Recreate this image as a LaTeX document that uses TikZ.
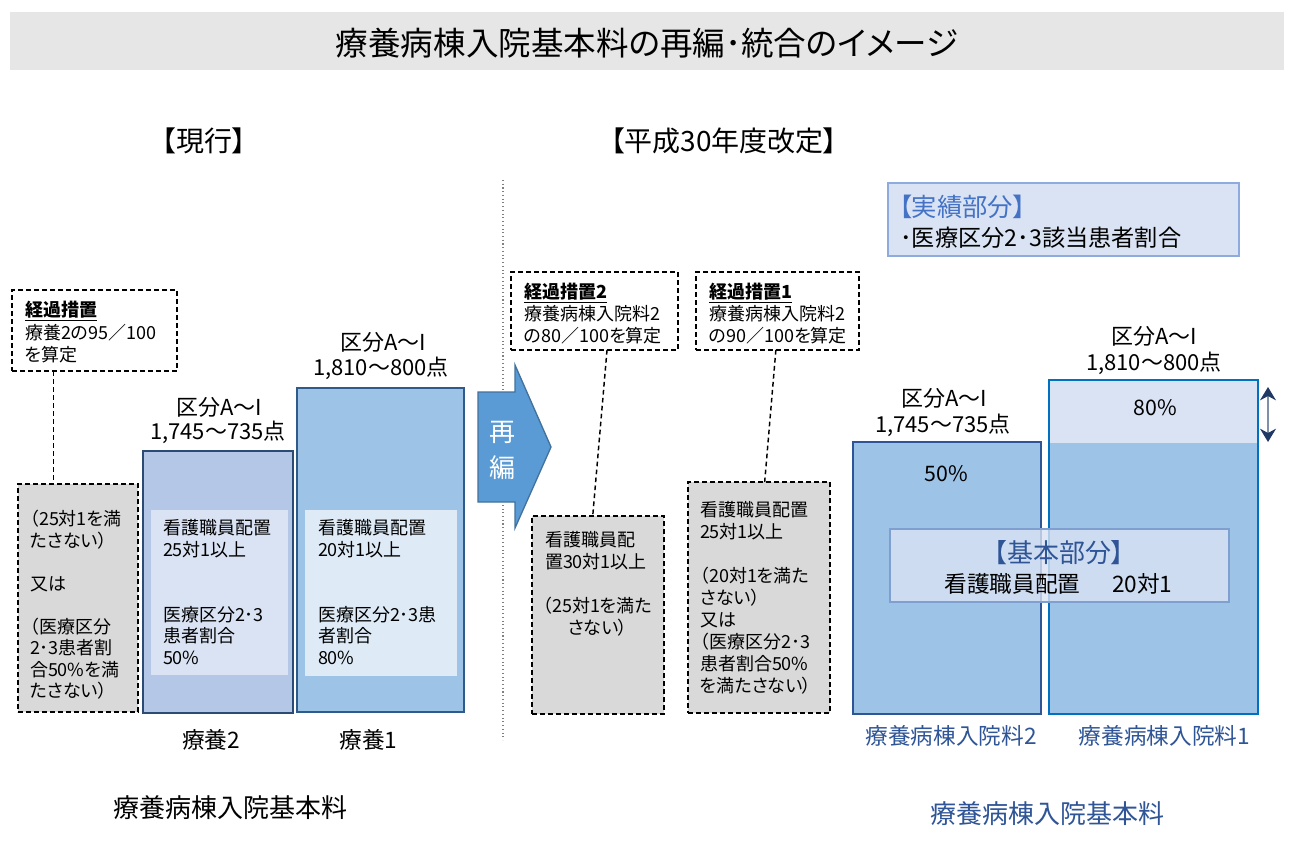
\documentclass[tikz,border=0pt]{standalone}
\usepackage{fontspec}
\setmainfont[RawFeature=+palt]{Noto Sans CJK JP}
\usetikzlibrary{arrows.meta,calc}
\definecolor{bandgray}{HTML}{E6E6E6}
\definecolor{boxgray}{HTML}{D9D9D9}
\definecolor{peri}{HTML}{B4C7E7}
\definecolor{skyb}{HTML}{9DC3E6}
\definecolor{palebl}{HTML}{DAE3F3}
\definecolor{palebl2}{HTML}{DEEBF7}
\definecolor{navyb}{HTML}{2B4A74}
\definecolor{steelb}{HTML}{2F5B8A}
\definecolor{arrowfill}{HTML}{5B9BD5}
\definecolor{arrowline}{HTML}{41719C}
\definecolor{lblblue}{HTML}{2F5597}
\definecolor{hdrblue}{HTML}{4472C4}
\definecolor{frameb}{HTML}{8FAADC}
\definecolor{kframe}{HTML}{7F9FD0}
\definecolor{brightb}{HTML}{0070C0}
\definecolor{darknavy}{HTML}{1F3864}
\definecolor{shaftgray}{HTML}{8090A8}
\begin{document}
\begin{tikzpicture}[x=0.75pt,y=-0.75pt,
  sz/.style 2 args={minimum width=#1*0.75pt,minimum height=#2*0.75pt,inner sep=0pt,outer sep=0pt,rectangle},
  dashbox/.style={draw=black,line width=1.1pt,dash pattern=on 3.5pt off 2.5pt},
  conn/.style={draw=black,line width=1.1pt,dash pattern=on 3.5pt off 2.5pt},
  txt/.style={inner sep=0pt,outer sep=0pt,align=left,anchor=north west,font=\fontsize{13.5pt}{16.2pt}\selectfont},
  lbl/.style={inner sep=0pt,outer sep=0pt,font=\fontsize{16.5pt}{20pt}\selectfont},
  mid/.style={inner sep=0pt,outer sep=0pt,font=\fontsize{17pt}{20pt}\selectfont},
  big/.style={inner sep=0pt,outer sep=0pt,font=\fontsize{19.5pt}{23pt}\selectfont},
  head/.style={inner sep=0pt,outer sep=0pt,font=\fontsize{21pt}{24pt}\selectfont},
]
\useasboundingbox[fill=white] (0,0) rectangle (1289,851);

% title
\node[sz={1274}{58},fill=bandgray] (band) at (647,41) {};
\node[inner sep=0pt,font=\fontsize{24.4pt}{28pt}\selectfont] (title) at (647,43) {療養病棟入院基本料の再編･統合のイメージ};
\node[head] (cur) at (204,141) {【現行】};
\node[head] (rev) at (724,141) {【平成30年度改定】};

% separator
\coordinate (sepT) at (503,180);
\coordinate (sepB) at (503,740);
\draw[gray,dotted,line width=0.8pt] (sepT) -- (sepB);

% ---------- left ----------
\node[sz={165}{81},dashbox,fill=white] (k0) at (94.5,330.5) {};
\node[txt,font=\fontsize{13.5pt}{16.9pt}\selectfont] (k0t) at (25,301.5) {\underline{\textbf{経過措置}}\\療養2の95／100\\を算定};

\node[sz={120}{228},dashbox,fill=boxgray] (g0) at (78,598) {};
\node[txt,font=\fontsize{13.5pt}{16.1pt}\selectfont] (g0t) at (30,510.5) {（25対1を満\\たさない）\\[16.1pt]又は\\[16.1pt]（医療区分\\2･3患者割\\合50\%を満\\たさない）};

\coordinate (c0) at ($(k0.south west)!0.25!(k0.south east)$);
\draw[conn] (c0) -- (c0 |- g0.north);

\node[sz={150}{262},fill=peri,draw=navyb,line width=2.2pt] (r2) at (218,582) {};
\node[sz={137}{165},fill=palebl] (r2in) at (219.5,592.5) {};
\node[txt] (r2t) at (163,519.5) {看護職員配置\\25対1以上\\[32.5pt]医療区分2･3\\患者割合\\50\%};
\node[lbl] (r2a) at (219,407) {区分A～I};
\node[lbl] (r2b) at (218,432) {1,745～735点};
\node[mid] (r2c) at (211,740) {療養2};

\node[sz={167}{324},fill=skyb,draw=steelb,line width=2.2pt] (r1) at (380.5,550) {};
\node[sz={152}{166},fill=palebl2] (r1in) at (381,593) {};
\node[txt] (r1t) at (318,519.5) {看護職員配置\\20対1以上\\[32.5pt]医療区分2･3患\\者割合\\80\%};
\node[lbl] (r1a) at (383,342) {区分A～I};
\node[lbl] (r1b) at (381,368) {1,810～800点};
\node[mid] (r1c) at (368.5,740) {療養1};

\node[big] (lbase) at (230.5,808) {療養病棟入院基本料};

% arrow
\draw[fill=arrowfill,draw=arrowline,line width=1pt] (478,392) -- (515,392) -- (515,365) -- (551,447) -- (515,528) -- (515,502) -- (478,502) -- cycle;
\node[inner sep=0pt,text=white,font=\fontsize{19.5pt}{21pt}\selectfont] (re) at (502,432) {再};
\node[inner sep=0pt,text=white,font=\fontsize{19.5pt}{21pt}\selectfont] (hen) at (502,468) {編};

% ---------- middle ----------
\node[sz={167}{78},dashbox,fill=white] (k2) at (594.5,311) {};
\node[txt] (k2t) at (524,283.5) {\underline{\textbf{経過措置2}}\\療養病棟入院料2\\の80／100を算定};
\node[sz={163}{78},dashbox,fill=white] (k1) at (777.5,311) {};
\node[txt] (k1t) at (709,283.5) {\underline{\textbf{経過措置1}}\\療養病棟入院料2\\の90／100を算定};

\node[sz={132}{198},dashbox,fill=boxgray] (g2) at (598,615) {};
\node[txt] (g2t) at (545,531.5) {看護職員配\\置30対1以上};
\node[txt,align=center,anchor=north] (g2u) at (597.5,597.5) {（25対1を満た\\さない）};

\node[sz={142}{231},dashbox,fill=boxgray] (g1) at (759,597.5) {};
\node[txt,font=\fontsize{13.5pt}{16.5pt}\selectfont] (g1t) at (700,501.5) {看護職員配置\\25対1以上\\[16.5pt]（20対1を満た\\さない）\\又は\\（医療区分2･3\\患者割合50\%\\を満たさない）};

\coordinate (c2a) at ($(k2.south west)!0.575!(k2.south east)$);
\coordinate (c2b) at ($(g2.north west)!0.46!(g2.north east)$);
\draw[conn] (c2a) -- (c2b);
\coordinate (c1a) at ($(k1.south west)!0.49!(k1.south east)$);
\coordinate (c1b) at ($(g1.north west)!0.54!(g1.north east)$);
\draw[conn] (c1a) -- (c1b);

% ---------- right ----------
\node[sz={351}{73},fill=palebl,draw=frameb,line width=1.2pt] (jis) at (1063.5,219.5) {};
\node[inner sep=0pt,anchor=west,text=hdrblue,font=\fontsize{19pt}{22pt}\selectfont] (jist) at (899,207) {【実績部分】};
\node[inner sep=0pt,anchor=west,font=\fontsize{17.4pt}{20pt}\selectfont] (jisb) at (900,238) {･医療区分2･3該当患者割合};

\node[sz={188}{272},fill=skyb,draw=lblblue,line width=1.5pt] (bar2) at (947,578) {};
\node[sz={209}{334},fill=skyb] (bar1) at (1153.5,547) {};
\node[sz={209}{63},fill=palebl,anchor=north] (bar1top) at (bar1.north) {};
\draw[brightb,line width=1.5pt] (bar1.north west) rectangle (bar1.south east);

\node[lbl,font=\fontsize{16pt}{20pt}\selectfont] (p50) at (946.5,474) {50\%};
\node[lbl,font=\fontsize{16pt}{20pt}\selectfont] (p80) at (1155,408) {80\%};
\node[lbl] (b2a) at (944.5,398) {区分A～I};
\node[lbl] (b2b) at (943,425) {1,745～735点};
\node[lbl] (b1a) at (1154.5,336) {区分A～I};
\node[lbl] (b1b) at (1154,363) {1,810～800点};

\coordinate (daT) at ($(bar1.north east)+(10,7)$);
\coordinate (daB) at ($(bar1.north east)+(10,62)$);
\draw[shaftgray,line width=1.3pt,{Stealth[length=10pt,width=12pt,color=darknavy]}-{Stealth[length=10pt,width=12pt,color=darknavy]}] (daT) -- (daB);

\node[sz={339}{73},fill=palebl,fill opacity=0.8,draw=kframe,draw opacity=1,line width=1.2pt] (kih) at (1059.5,565.5) {};
\node[inner sep=0pt,text=lblblue,font=\fontsize{19.5pt}{22pt}\selectfont] (kiht) at (1059,553) {【基本部分】};
\node[inner sep=0pt,font=\fontsize{17pt}{20pt}\selectfont] (kihb) at (1058.5,584) {看護職員配置\hspace{1.4em}20対1};

\node[mid,text=lblblue] (b2c) at (951,736) {療養病棟入院料2};
\node[mid,text=lblblue] (b1c) at (1164.5,736) {療養病棟入院料1};
\node[big,text=lblblue] (rbase) at (1047,814) {療養病棟入院基本料};
\end{tikzpicture}
\end{document}
